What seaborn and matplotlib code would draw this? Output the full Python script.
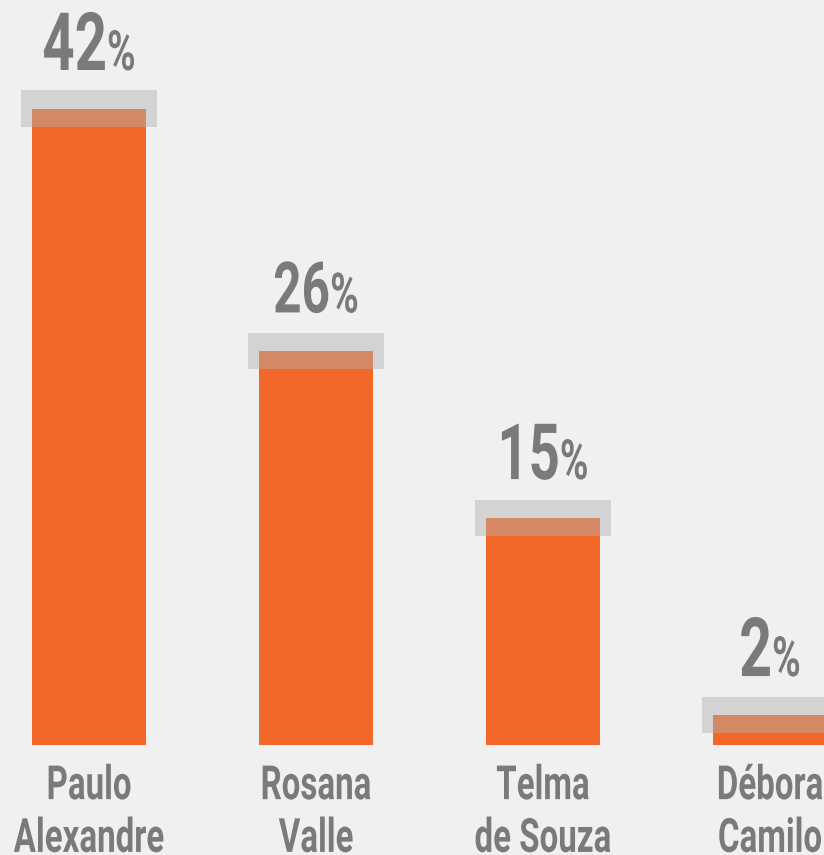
import matplotlib
matplotlib.use("Agg")
import matplotlib.pyplot as plt
import matplotlib.transforms as mtransforms
from matplotlib import patheffects
import seaborn as sns
import pandas as pd

# data
candidates = ["Paulo\nAlexandre", "Rosana\nValle", "Telma\nde Souza", "Débora\nCamilo"]
votes = [42, 26, 15, 2]
margin = 1.2  # half height of the grey band, in percentage points

BG = "#f0f0f0"
ORANGE = "#f26829"
TXT = "#7a7a7a"
SX = 0.7  # horizontal squeeze to mimic a condensed face
num_sizes = [58, 51, 56, 59]  # the original's number labels differ a bit in size


class Squeeze(patheffects.AbstractPathEffect):
    """draw text glyphs squeezed horizontally around display x = cx"""
    def __init__(self, sx, cx=0.0):
        super().__init__()
        self.sx = sx
        self.cx = cx

    def draw_path(self, renderer, gc, tpath, affine, rgbFace=None):
        a = affine + mtransforms.Affine2D().translate(-self.cx, 0).scale(self.sx, 1).translate(self.cx, 0)
        renderer.draw_path(gc, tpath, a, rgbFace)


sns.set_theme(style="white")
plt.rcParams["font.family"] = ["Roboto", "DejaVu Sans"]
plt.rcParams["font.weight"] = "bold"

df = pd.DataFrame({"candidate": candidates, "votes": votes})

fig = plt.figure(figsize=(8.24, 8.55), dpi=100, facecolor=BG)
ax = fig.add_axes([0, 110 / 855, 1, 745 / 855])
ax.set_facecolor(BG)

sns.barplot(data=df, x="candidate", y="votes", color=ORANGE, saturation=1,
            width=0.5, linewidth=0, ax=ax, zorder=2)
# grey margin band centred on the top of each bar
ax.bar(range(len(votes)), [2 * margin] * len(votes), bottom=[v - margin for v in votes],
       width=0.6, color="#b0b0b0", alpha=0.45, zorder=3, linewidth=0)

ax.set_xlim(-0.392, 3.238)
ax.set_ylim(0, 49.17)
ax.set_xlabel("")
ax.set_ylabel("")
ax.set_yticks([])
ax.tick_params(axis="x", length=0, pad=13.8)
sns.despine(ax=ax, left=True, bottom=True)

fig.canvas.draw()
renderer = fig.canvas.get_renderer()

for i, lbl in enumerate(ax.get_xticklabels()):
    lbl.set_fontsize(34)
    lbl.set_color(TXT)
    lbl.set_fontweight("bold")
    lbl.set_linespacing(1.25)
    cx = ax.transData.transform((i, 0))[0]
    lbl.set_path_effects([Squeeze(SX, cx)])

# value labels: big number + small percent sign, centred as a group
gap = 0
for i, v in enumerate(votes):
    y = v + 2.55
    t1 = ax.text(i, y, str(v), fontsize=num_sizes[i], color=TXT, fontweight="bold",
                 ha="left", va="baseline", clip_on=False)
    t2 = ax.text(i, y, "%", fontsize=40, color=TXT, fontweight="bold",
                 ha="left", va="baseline", clip_on=False)
    w1 = t1.get_window_extent(renderer).width * SX
    w2 = t2.get_window_extent(renderer).width * SX
    total = w1 + gap + w2
    xc = ax.transData.transform((i, y))[0]
    t1.set_transform(mtransforms.offset_copy(ax.transData, fig=fig, x=-total / 2, y=0, units="dots"))
    t2.set_transform(mtransforms.offset_copy(ax.transData, fig=fig, x=-total / 2 + w1 + gap, y=0, units="dots"))
    t1.set_path_effects([Squeeze(SX, xc - total / 2)])
    t2.set_path_effects([Squeeze(SX, xc - total / 2 + w1 + gap)])

fig.savefig("out.png", dpi=100, facecolor=BG)
